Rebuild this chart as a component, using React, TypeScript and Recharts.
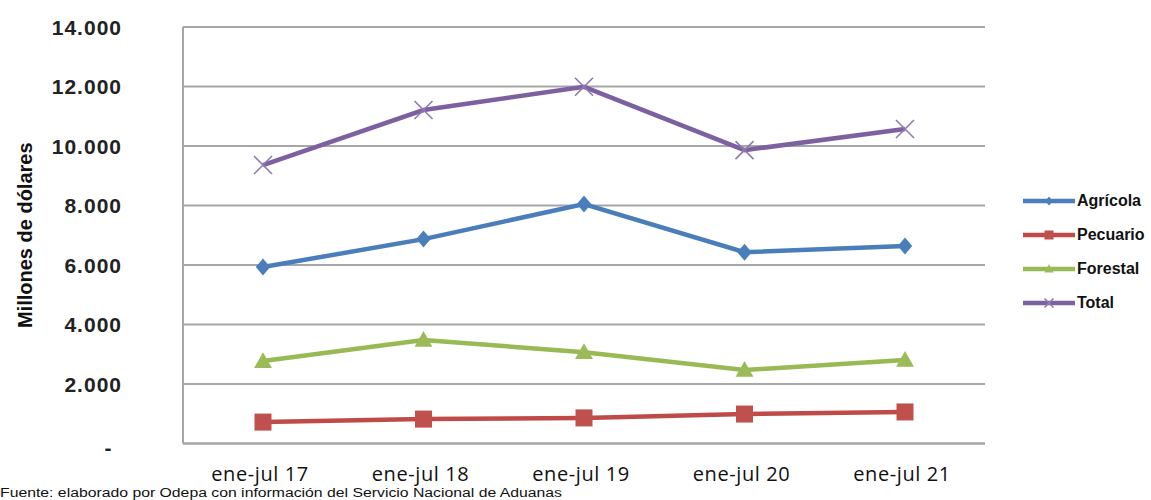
import React from 'react';
import { LineChart, Line, XAxis, YAxis, CartesianGrid, Legend } from 'recharts';

const categories = ['ene-jul 17', 'ene-jul 18', 'ene-jul 19', 'ene-jul 20', 'ene-jul 21'];
const agricola = [5930, 6870, 8050, 6430, 6640];
const pecuario = [720, 820, 860, 990, 1060];
const forestal = [2770, 3480, 3070, 2470, 2810];
const total = [9360, 11210, 11990, 9860, 10570];
const yTicks = [0, 2000, 4000, 6000, 8000, 10000, 12000, 14000];

const seriesNames = ['Agrícola', 'Pecuario', 'Forestal', 'Total'];
const seriesKeys = ['agricola', 'pecuario', 'forestal', 'total'];
const seriesColors = ['#4A7EBB', '#BE4B48', '#98B954', '#7D60A0'];
const markerColors = ['#4A7EBB', '#C0504D', '#9BBB59', '#8E7AAE'];

const data = categories.map((c, i) => ({
  cat: c,
  agricola: agricola[i],
  pecuario: pecuario[i],
  forestal: forestal[i],
  total: total[i],
}));

const GRID = '#A6A6A6';

function marker(kind: number, cx: number, cy: number, s: number, key?: any) {
  const col = markerColors[kind];
  if (kind === 0) {
    return <polygon key={key} points={`${cx},${cy - s} ${cx + s * 0.85},${cy} ${cx},${cy + s} ${cx - s * 0.85},${cy}`} fill={col} />;
  }
  if (kind === 1) {
    return <rect key={key} x={cx - s} y={cy - s} width={2 * s} height={2 * s} fill={col} />;
  }
  if (kind === 2) {
    return <polygon key={key} points={`${cx},${cy - s * 1.05} ${cx + s * 1.05},${cy + s * 0.8} ${cx - s * 1.05},${cy + s * 0.8}`} fill={col} />;
  }
  return (
    <g key={key}>
      <line x1={cx - s} y1={cy - s} x2={cx + s} y2={cy + s} stroke={col} strokeWidth={1.6} />
      <line x1={cx - s} y1={cy + s} x2={cx + s} y2={cy - s} stroke={col} strokeWidth={1.6} />
    </g>
  );
}

const makeDot = (kind: number) => (props: any) => {
  const { cx, cy, index } = props;
  if (cx == null || cy == null) return <g key={`d${kind}-${index}`} />;
  return marker(kind, cx, cy, kind === 3 ? 9 : 8.5, `d${kind}-${index}`);
};

const fmt = (v: number) => v.toLocaleString('de-DE');

const YTick = (props: any) => {
  const { x, y, payload } = props;
  if (payload.value === 0) {
    return (
      <text x={x - 14} y={y + 4} textAnchor="middle" dominantBaseline="central" fontFamily="'Liberation Sans', Arial, sans-serif" fontWeight="bold" fontSize={21} fill="#222">-</text>
    );
  }
  return (
    <text x={x} y={y} textAnchor="end" dominantBaseline="central" fontFamily="'Liberation Sans', Arial, sans-serif" fontWeight="bold" fontSize={21} letterSpacing={1} fill="#222">
      {fmt(payload.value)}
    </text>
  );
};

const XTick = (props: any) => {
  const { x, y, payload } = props;
  return (
    <text x={x - 3} y={y} dy="0.75em" textAnchor="middle" fontFamily="'Open Sans', 'Noto Sans', sans-serif" fontSize={20} letterSpacing={0.6} fill="#111">
      {payload.value}
    </text>
  );
};

const YLabel = (props: any) => {
  const vb = props.viewBox || { x: 0, y: 27, width: 183, height: 416 };
  const cx = vb.x + 25;
  const cy = vb.y + vb.height / 2;
  return (
    <text x={cx} y={cy} transform={`rotate(-90 ${cx} ${cy})`} textAnchor="middle" dominantBaseline="central" fontFamily="'Liberation Sans', Arial, sans-serif" fontWeight="bold" fontSize={20} fill="#111">
      Millones de dólares
    </text>
  );
};

const LegendContent = () => (
  <div style={{ display: 'flex', flexDirection: 'column' }}>
    {seriesNames.map((n, i) => (
      <div key={n} style={{ height: 34, display: 'flex', alignItems: 'center' }}>
        <svg width={52} height={20} style={{ display: 'block' }}>
          <line x1={0} y1={10} x2={52} y2={10} stroke={seriesColors[i]} strokeWidth={4.5} />
          {marker(i, 26, 10, 4.5)}
        </svg>
        <span style={{ marginLeft: 2, fontFamily: "'Liberation Sans', Arial, sans-serif", fontWeight: 'bold', fontSize: 16, color: '#111', whiteSpace: 'nowrap' }}>{n}</span>
      </div>
    ))}
  </div>
);

export default function App() {
  return (
    <div style={{ position: 'absolute', left: 0, top: 0, width: 1151, height: 500, background: '#fff' }}>
      <LineChart width={1151} height={500} data={data} margin={{ top: 27, right: 30, bottom: 0, left: 0 }}>
        <CartesianGrid vertical={false} stroke={GRID} strokeWidth={2} />
        <XAxis
          dataKey="cat"
          height={56.5}
          padding={{ left: 80, right: 80 }}
          axisLine={{ stroke: GRID, strokeWidth: 2 }}
          tickLine={false}
          tickSize={0}
          tickMargin={22}
          tick={<XTick />}
          interval={0}
        />
        <YAxis
          width={183}
          domain={[0, 14000]}
          ticks={yTicks}
          axisLine={{ stroke: GRID, strokeWidth: 2 }}
          tickLine={false}
          tickSize={0}
          tickMargin={61}
          tick={<YTick />}
          label={{ value: 'Millones de dólares', content: <YLabel /> }}
        />
        <Legend
          layout="vertical"
          align="right"
          verticalAlign="middle"
          width={136}
          wrapperStyle={{ left: 1023, top: 184, right: 'auto' }}
          content={<LegendContent />}
        />
        {seriesKeys.map((k, i) => (
          <Line
            key={k}
            type="linear"
            dataKey={k}
            name={seriesNames[i]}
            stroke={seriesColors[i]}
            strokeWidth={4.5}
            dot={makeDot(i)}
            activeDot={false}
            isAnimationActive={false}
          />
        ))}
      </LineChart>
      <svg width={1151} height={500} style={{ position: 'absolute', left: 0, top: 0, pointerEvents: 'none' }}>
        <text x={0} y={497} fontFamily="'Liberation Sans', Arial, sans-serif" fontSize={12} fill="#111" textLength={562} lengthAdjust="spacingAndGlyphs">
          Fuente: elaborado por Odepa con información del Servicio Nacional de Aduanas
        </text>
      </svg>
    </div>
  );
}
